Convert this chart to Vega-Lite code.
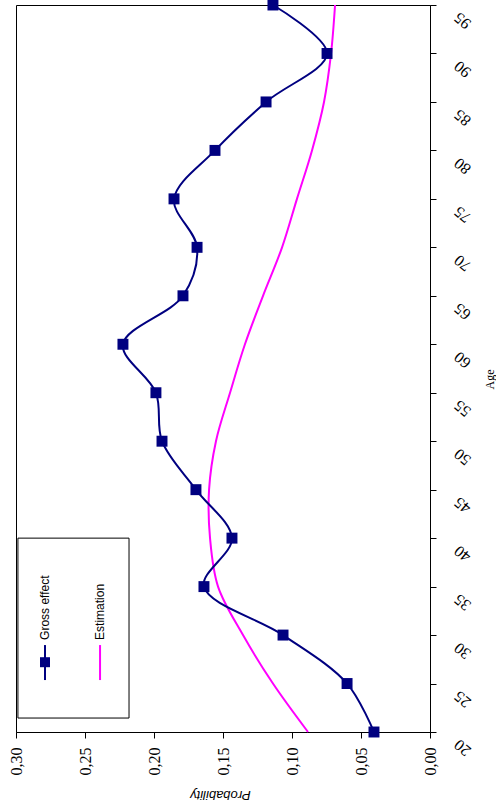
{
  "$schema": "https://vega.github.io/schema/vega-lite/v6.json",
  "width": 414,
  "height": 727,
  "autosize": {"type": "none"},
  "padding": {"left": 16, "top": 5, "right": 66, "bottom": 80},
  "background": "white",
  "config": {
    "view": {"stroke": "black", "strokeWidth": 1},
    "axis": {"grid": false, "domainColor": "black", "tickColor": "black", "labelColor": "black", "titleColor": "black"}
  },
  "datasets": {
    "curves": [
      {"age": 20, "series": "Gross effect", "prob": 0.0406},
      {"age": 25, "series": "Gross effect", "prob": 0.0601},
      {"age": 30, "series": "Gross effect", "prob": 0.1065},
      {"age": 35, "series": "Gross effect", "prob": 0.1638},
      {"age": 40, "series": "Gross effect", "prob": 0.1435},
      {"age": 45, "series": "Gross effect", "prob": 0.1696},
      {"age": 50, "series": "Gross effect", "prob": 0.1942},
      {"age": 55, "series": "Gross effect", "prob": 0.1986},
      {"age": 60, "series": "Gross effect", "prob": 0.2225},
      {"age": 65, "series": "Gross effect", "prob": 0.1790},
      {"age": 70, "series": "Gross effect", "prob": 0.1688},
      {"age": 75, "series": "Gross effect", "prob": 0.1855},
      {"age": 80, "series": "Gross effect", "prob": 0.1558},
      {"age": 85, "series": "Gross effect", "prob": 0.1188},
      {"age": 90, "series": "Gross effect", "prob": 0.0746},
      {"age": 95, "series": "Gross effect", "prob": 0.1138},
      {"age": 20, "series": "Estimation", "prob": 0.0884},
      {"age": 25, "series": "Estimation", "prob": 0.1138},
      {"age": 30, "series": "Estimation", "prob": 0.1355},
      {"age": 35, "series": "Estimation", "prob": 0.1536},
      {"age": 40, "series": "Estimation", "prob": 0.1594},
      {"age": 45, "series": "Estimation", "prob": 0.1601},
      {"age": 50, "series": "Estimation", "prob": 0.1551},
      {"age": 55, "series": "Estimation", "prob": 0.1449},
      {"age": 60, "series": "Estimation", "prob": 0.1341},
      {"age": 65, "series": "Estimation", "prob": 0.1210},
      {"age": 70, "series": "Estimation", "prob": 0.1072},
      {"age": 75, "series": "Estimation", "prob": 0.0964},
      {"age": 80, "series": "Estimation", "prob": 0.0855},
      {"age": 85, "series": "Estimation", "prob": 0.0768},
      {"age": 90, "series": "Estimation", "prob": 0.0717},
      {"age": 95, "series": "Estimation", "prob": 0.0688}
    ],
    "legendItems": [
      {"label": "Gross effect", "lx": 0.279},
      {"label": "Estimation", "lx": 0.2391}
    ]
  },
  "layer": [
    {
      "data": {"name": "curves"},
      "transform": [{"filter": "datum.series === 'Estimation'"}],
      "mark": {"type": "line", "interpolate": "catmull-rom", "color": "#FF00FF", "strokeWidth": 2},
      "encoding": {
        "x": {
          "field": "prob", "type": "quantitative",
          "scale": {"domain": [0, 0.3], "reverse": true, "nice": false, "zero": false},
          "axis": {
            "orient": "bottom", "values": [0, 0.05, 0.1, 0.15, 0.2, 0.25, 0.3],
            "labelExpr": "replace(format(datum.value, '.2f'), '.', ',')",
            "labelAngle": 270, "labelAlign": "right", "labelBaseline": "middle",
            "labelFont": "Liberation Serif", "labelFontSize": 16, "labelPadding": 9,
            "tickSize": 6, "title": "Probability", "titleAngle": 180,
            "titleFont": "Liberation Sans", "titleFontSize": 13, "titleFontWeight": "normal", "titleFontStyle": "italic",
            "titleX": 204, "titleY": 62, "titleBaseline": "middle", "titleAlign": "center"
          }
        },
        "y": {
          "field": "age", "type": "quantitative",
          "scale": {"domain": [20, 95], "nice": false, "zero": false},
          "axis": {
            "orient": "right", "values": [20, 25, 30, 35, 40, 45, 50, 55, 60, 65, 70, 75, 80, 85, 90, 95],
            "labelAngle": 220, "labelAlign": "right", "labelBaseline": "middle",
            "labelFont": "Liberation Serif", "labelFontSize": 16, "labelPadding": 20, "labelOffset": 10,
            "tickSize": 6, "title": "Age", "titleAngle": 270,
            "titleFont": "Liberation Serif", "titleFontSize": 12, "titleFontWeight": "normal",
            "titleX": 59, "titleY": 374, "titleBaseline": "middle", "titleAlign": "center"
          }
        },
        "order": {"field": "age", "type": "quantitative"}
      }
    },
    {
      "data": {"name": "curves"},
      "transform": [{"filter": "datum.series === 'Gross effect'"}],
      "mark": {"type": "line", "interpolate": "catmull-rom", "color": "#000080", "strokeWidth": 2},
      "encoding": {
        "x": {"field": "prob", "type": "quantitative"},
        "y": {"field": "age", "type": "quantitative"},
        "order": {"field": "age", "type": "quantitative"}
      }
    },
    {
      "data": {"name": "curves"},
      "transform": [{"filter": "datum.series === 'Gross effect'"}],
      "mark": {"type": "point", "shape": "square", "filled": true, "color": "#000080", "size": 120, "opacity": 1},
      "encoding": {
        "x": {"field": "prob", "type": "quantitative"},
        "y": {"field": "age", "type": "quantitative"}
      }
    },
    {
      "data": {"values": [{}]},
      "mark": {"type": "rect", "fill": "white", "stroke": "black", "strokeWidth": 1},
      "encoding": {
        "x": {"datum": 0.2986}, "x2": {"datum": 0.2181},
        "y": {"datum": 40.0}, "y2": {"datum": 21.44}
      }
    },
    {
      "data": {"values": [{}]},
      "mark": {"type": "rule", "color": "#000080", "strokeWidth": 2},
      "encoding": {
        "x": {"datum": 0.279},
        "y": {"datum": 25.36}, "y2": {"datum": 28.97}
      }
    },
    {
      "data": {"values": [{}]},
      "mark": {"type": "point", "shape": "square", "filled": true, "color": "#000080", "size": 100, "opacity": 1},
      "encoding": {
        "x": {"datum": 0.279},
        "y": {"datum": 27.2}
      }
    },
    {
      "data": {"values": [{}]},
      "mark": {"type": "rule", "color": "#FF00FF", "strokeWidth": 2},
      "encoding": {
        "x": {"datum": 0.2391},
        "y": {"datum": 25.36}, "y2": {"datum": 28.97}
      }
    },
    {
      "data": {"name": "legendItems"},
      "mark": {"type": "text", "angle": 270, "align": "left", "baseline": "middle", "font": "Liberation Sans", "fontSize": 12, "color": "black"},
      "encoding": {
        "x": {"field": "lx", "type": "quantitative"},
        "y": {"datum": 29.5},
        "text": {"field": "label"}
      }
    }
  ]
}
